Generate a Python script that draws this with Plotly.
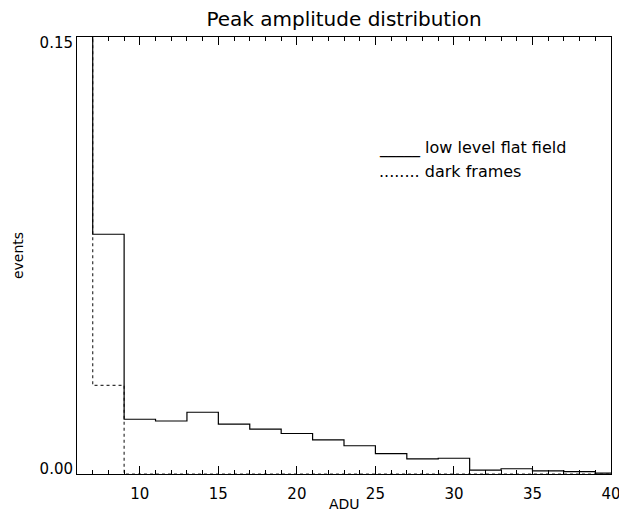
import plotly.graph_objects as go

# Histogram bin edges (ADU), 2-ADU wide bins
bin_edges = [5, 7, 9, 11, 13, 15, 17, 19, 21, 23, 25, 27, 29, 31, 33, 35, 37, 39, 41]

# Normalised event fractions per bin
flat_field = [0.29, 0.0823, 0.0188, 0.0182, 0.0212, 0.0171, 0.0154, 0.0139, 0.0117,
              0.0097, 0.0070, 0.0052, 0.0054, 0.0013, 0.0018, 0.0011, 0.0008, 0.0003]
dark_frames = [0.40, 0.0304, 0.0, 0.0, 0.0, 0.0, 0.0, 0.0, 0.0,
               0.0, 0.0, 0.0, 0.0, 0.0, 0.0, 0.0, 0.0, 0.0]

x_range = [6, 40]
y_range = [0, 0.15]
y_tick_labels = ["0.00", "0.15"]

legend_rows = ["_____ low level flat field", "........ dark frames"]

FONT = "DejaVu Sans"

# y labels sit just inside the ends of the axis, as in the classic plot style
label_inset = (y_range[1] - y_range[0]) * 5.5 / 437.5
y_tick_positions = [y_range[0] + label_inset, y_range[1] - label_inset]


def steps(edges, values):
    # repeat the last value so the final bin gets its right edge
    return edges, list(values) + [values[-1]]


fig = go.Figure()

xs, ys = steps(bin_edges, dark_frames)
fig.add_trace(go.Scatter(
    x=xs, y=ys, mode="lines", line_shape="hv",
    line=dict(color="#333333", width=1.2, dash="3px,3px"),
    showlegend=False, hoverinfo="skip",
))

xs, ys = steps(bin_edges, flat_field)
fig.add_trace(go.Scatter(
    x=xs, y=ys, mode="lines", line_shape="hv",
    line=dict(color="black", width=1.2),
    showlegend=False, hoverinfo="skip",
))

for i, row in enumerate(legend_rows):
    fig.add_annotation(
        x=0.5618, y=0.745 - i * 0.052, xref="paper", yref="paper",
        xanchor="left", yanchor="middle", text=row, showarrow=False,
        font=dict(family=FONT, size=16, color="black"),
    )

# x-axis title placed close under the tick labels
fig.add_annotation(
    x=0.5, y=-0.068, xref="paper", yref="paper",
    xanchor="center", yanchor="middle", text="ADU", showarrow=False,
    font=dict(family=FONT, size=14, color="black"),
)

fig.update_layout(
    width=619, height=521,
    margin=dict(l=77, r=8, t=37, b=47),
    paper_bgcolor="white", plot_bgcolor="white",
    title=dict(
        text="Peak amplitude distribution",
        x=(77 + 611) / 2 / 619, xanchor="center",
        y=1 - 19 / 521, yanchor="middle", yref="container",
        font=dict(family=FONT, size=20, color="black"),
    ),
    font=dict(family=FONT, color="black"),
)

fig.update_xaxes(
    range=x_range, tick0=0, dtick=5, automargin=False,
    ticks="inside", ticklen=8, tickwidth=1, tickcolor="black",
    minor=dict(dtick=1, ticks="inside", ticklen=4, tickwidth=1, tickcolor="black"),
    showline=True, linecolor="black", linewidth=1, mirror="allticks",
    showgrid=False, zeroline=False,
    tickfont=dict(family=FONT, size=15, color="black"),
    ticklabelstandoff=6, ticklabeloverflow="allow",
)

fig.update_yaxes(
    range=y_range, tickvals=y_tick_positions, ticktext=y_tick_labels, automargin=False,
    ticks="", showline=True, linecolor="black", linewidth=1, mirror=True,
    showgrid=False, zeroline=False,
    tickfont=dict(family=FONT, size=15, color="black"),
    title=dict(text="events", font=dict(family=FONT, size=14, color="black"), standoff=12),
)

fig.write_html("out.html")
